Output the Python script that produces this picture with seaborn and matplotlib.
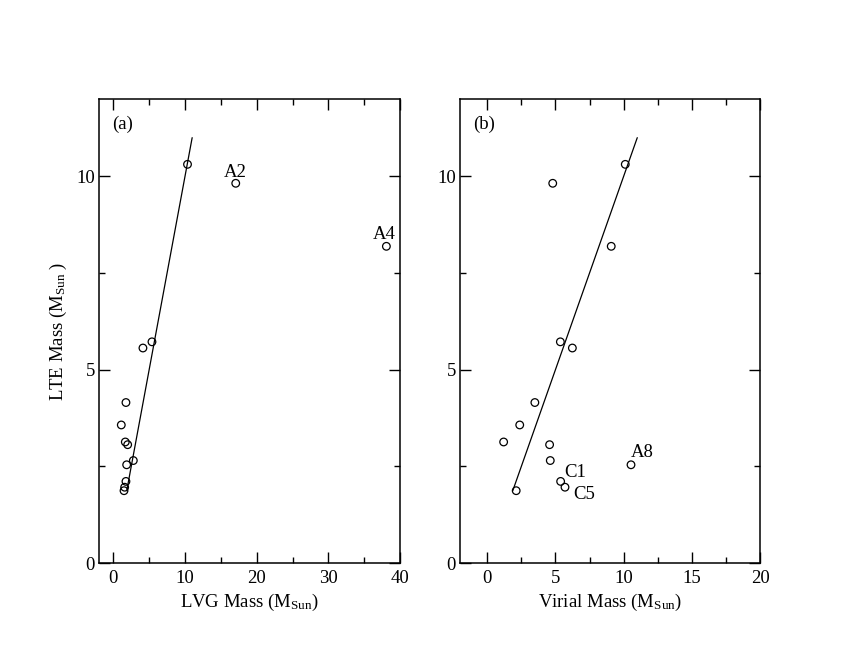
import matplotlib
matplotlib.use("Agg")
import matplotlib.pyplot as plt
import seaborn as sns
import pandas as pd
from matplotlib.ticker import MultipleLocator

# ---- data ----
lte_mass = [10.31, 9.82, 8.19, 5.72, 5.56, 4.15, 3.57, 3.13, 3.06, 2.65, 2.54, 2.11, 1.96, 1.87]
lvg_mass = [10.35, 17.08, 38.1, 5.39, 4.13, 1.76, 1.11, 1.67, 2.00, 2.79, 1.86, 1.76, 1.58, 1.49]
virial_mass = [10.12, 4.80, 9.09, 5.36, 6.24, 3.49, 2.38, 1.20, 4.57, 4.62, 10.54, 5.38, 5.70, 2.12]
fit_x = [1.87, 11.0]
fit_y = [1.87, 11.0]
labels_a = {1: "A2", 2: "A4"}
labels_b = {10: "A8", 11: "C1", 12: "C5"}
x_ticks_a = [0, 10, 20, 30, 40]
x_ticks_b = [0, 5, 10, 15, 20]
y_ticks = [0, 5, 10]

sns.set_theme(style="ticks")
plt.rcParams["font.family"] = ["Liberation Serif", "DejaVu Serif"]
plt.rcParams["mathtext.fontset"] = "custom"
plt.rcParams["mathtext.rm"] = "Liberation Serif"
plt.rcParams["mathtext.it"] = "Liberation Serif:italic"
plt.rcParams["font.size"] = 13.5
plt.rcParams["text.color"] = "black"
plt.rcParams["xtick.labelcolor"] = "black"
plt.rcParams["ytick.labelcolor"] = "black"
plt.rcParams["axes.labelcolor"] = "black"

df = pd.DataFrame({"lte": lte_mass, "lvg": lvg_mass, "vir": virial_mass})
fit = pd.DataFrame({"x": fit_x, "y": fit_y})

fig = plt.figure(figsize=(8.6, 6.64), dpi=100)
ax_a = fig.add_axes([99 / 860, 1 - 563 / 664, (400 - 99) / 860, (563 - 99) / 664])
ax_b = fig.add_axes([460 / 860, 1 - 563 / 664, (760 - 460) / 860, (563 - 99) / 664])

fs = 13.5

for ax, xcol, xt, xlim, xminor, xlabel, panel, labs, offs in [
    (ax_a, "lvg", x_ticks_a, (-2, 40), 5, r"LVG Mass (M$_{\mathrm{Sun}}$)", "(a)", labels_a,
     {1: (0, 7.5), 2: (-1.2, 8.5)}),
    (ax_b, "vir", x_ticks_b, (-2, 20), 2.5, r"Virial Mass (M$_{\mathrm{Sun}}$)", "(b)", labels_b,
     {10: (8, 8.5), 11: (10.5, 6.2), 12: (13.5, -5.5)}),
]:
    sns.lineplot(data=fit, x="x", y="y", ax=ax, color="black", linewidth=0.9, legend=False)
    sns.scatterplot(data=df, x=xcol, y="lte", ax=ax, marker="o", s=30,
                    facecolor="none", edgecolor="black", linewidth=0.9, legend=False, zorder=3)
    for i, name in labs.items():
        ax.annotate(name, (df[xcol][i], df["lte"][i]), xytext=offs[i],
                    textcoords="offset points", ha="center", va="center", fontsize=fs)
    ax.set_xlim(*xlim)
    ax.set_ylim(0, 12)
    ax.set_xticks(xt)
    ax.set_yticks(y_ticks)
    ax.xaxis.set_minor_locator(MultipleLocator(xminor))
    ax.yaxis.set_minor_locator(MultipleLocator(2.5))
    ax.tick_params(which="both", direction="in", top=True, right=True, labelsize=fs, color="black")
    ax.tick_params(which="major", length=8, width=1)
    ax.tick_params(axis="x", which="major", pad=5)
    ax.tick_params(axis="y", which="major", pad=3)
    ax.tick_params(which="minor", length=4.5, width=1)
    for sp in ax.spines.values():
        sp.set_linewidth(1.1)
        sp.set_color("black")
    ax.set_xlabel(xlabel, fontsize=fs, labelpad=3.5)
    ax.set_ylabel("")
    ax.text(0.045, 0.945, panel, transform=ax.transAxes, fontsize=fs, ha="left", va="center")

ax_a.set_ylabel(r"LTE Mass (M$_{\mathrm{Sun}}$ )", fontsize=fs, labelpad=5)

fig.savefig("out.png", dpi=100, facecolor="white")
